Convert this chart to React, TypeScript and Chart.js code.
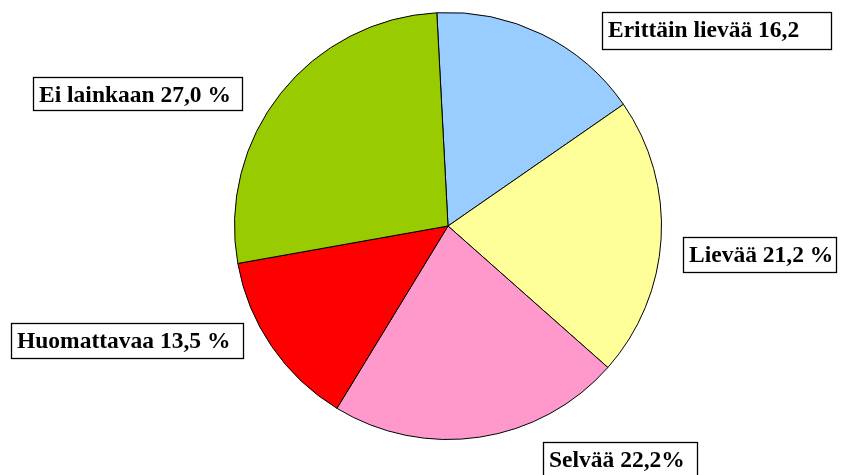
import React, { useEffect, useRef } from "react";
import { Chart, registerables } from "chart.js";

Chart.register(...registerables);

const categories = ["Erittäin lievää", "Lievää", "Selvää", "Huomattavaa", "Ei lainkaan"];
const values = [16.2, 21.2, 22.2, 13.5, 27.0];
const labelTexts = ["Erittäin lievää 16,2", "Lievää 21,2 %", "Selvää 22,2%", "Huomattavaa 13,5 %", "Ei lainkaan 27,0 %"];
const colors = ["#99CCFF", "#FFFF99", "#FF99CC", "#FF0000", "#99CC00"];

// label box layout [x, y, w, h]
const labelBoxes: [number, number, number, number][] = [
  [602, 12, 229, 37],
  [683, 237, 153, 35],
  [543, 442, 154, 36],
  [11, 323, 232, 35],
  [33, 77, 209, 33],
];

const labelPlugin = {
  id: "boxLabels",
  afterDraw(chart: any) {
    const ctx = chart.ctx;
    ctx.save();
    ctx.font = "bold 23.5px 'Liberation Serif', 'Times New Roman', serif";
    ctx.textBaseline = "alphabetic";
    ctx.textAlign = "left";
    labelTexts.forEach((t, i) => {
      const [x, y, w, h] = labelBoxes[i];
      ctx.fillStyle = "#FFFFFF";
      ctx.fillRect(x, y, w, h);
      ctx.strokeStyle = "#000000";
      ctx.lineWidth = 1.3;
      ctx.strokeRect(x + 0.5, y + 0.5, w, h);
      ctx.fillStyle = "#000000";
      ctx.fillText(t, x + 6, y + 25);
    });
    ctx.restore();
  },
};

export default function App() {
  const ref = useRef<HTMLCanvasElement | null>(null);
  useEffect(() => {
    document.body.style.margin = "0";
    const chart = new Chart(ref.current as HTMLCanvasElement, {
      type: "pie",
      data: {
        labels: categories,
        datasets: [
          {
            data: values,
            backgroundColor: colors,
            borderColor: "#000000",
            borderWidth: 1,
          },
        ],
      },
      options: {
        animation: false,
        responsive: false,
        rotation: -3,
        layout: { padding: { left: 234, right: 181, top: 12, bottom: 35 } },
        plugins: {
          legend: { display: false },
          tooltip: { enabled: false },
        },
      },
      plugins: [labelPlugin],
    });
    return () => chart.destroy();
  }, []);
  return (
    <div style={{ position: "fixed", left: 0, top: 0, width: 843, height: 475, background: "#fff" }}>
      <canvas ref={ref} width={843} height={475} style={{ width: 843, height: 475 }} />
    </div>
  );
}
